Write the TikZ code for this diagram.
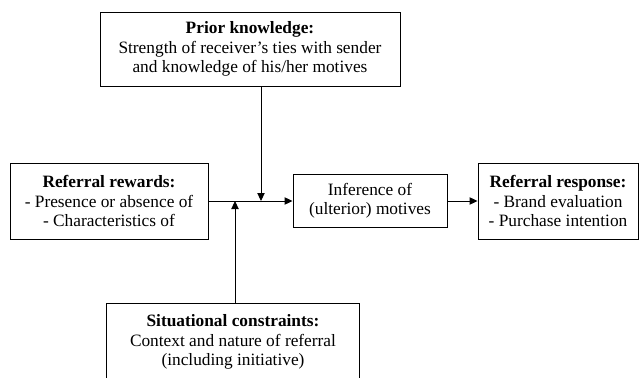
\documentclass[tikz,border=0pt]{standalone}
\usepackage{fontspec}
\setmainfont{Liberation Serif}
\usepackage{tikz}
\usetikzlibrary{arrows.meta}
\tikzset{>={Triangle[width=5.5pt,length=6pt]}}
\tikzset{factor/.style={draw, line width=0.7pt, align=center, inner sep=0pt,
    font=\fontsize{13}{14.6}\selectfont}}

\begin{document}
\begin{tikzpicture}[x=0.75pt, y=-0.75pt, line width=0.7pt]

  \useasboundingbox (0,0) rectangle (639,378);

  %% factors
  \node[factor, minimum width=225pt, minimum height=55.5pt] (prior) at (250,49)
    {\textbf{Prior knowledge:}\\ Strength of receiver’s ties with sender\\ and knowledge of his/her motives};
  \node[factor, minimum width=148.5pt, minimum height=57pt] (rewards) at (109,201)
    {\textbf{Referral rewards:}\\ - Presence or absence of\\ - Characteristics of};
  \node[factor, minimum width=115.5pt, minimum height=39.75pt] (inference) at (370,201)
    {Inference of\\ (ulterior) motives};
  \node[factor, minimum width=120pt, minimum height=57pt] (response) at (558,201)
    {\textbf{Referral response:}\\ - Brand evaluation\\ - Purchase intention};
  \node[factor, minimum width=190pt, minimum height=58.5pt] (situation) at (233,342)
    {\textbf{Situational constraints:}\\ Context and nature of referral\\ (including initiative)};

  %% joins on the main line
  \coordinate (joinA) at (261,201);
  \coordinate (joinB) at (235,201);

  \draw[->] (rewards.east) -- (inference.west); % rewards -> inference
  \draw[->] (joinA |- prior.south) -- (joinA); % prior knowledge
  \draw[->] (joinB |- situation.north) -- (joinB); % situational constraints
  \draw[->] (inference.east) -- (response.west); % inference -> response

\end{tikzpicture}
\end{document}
